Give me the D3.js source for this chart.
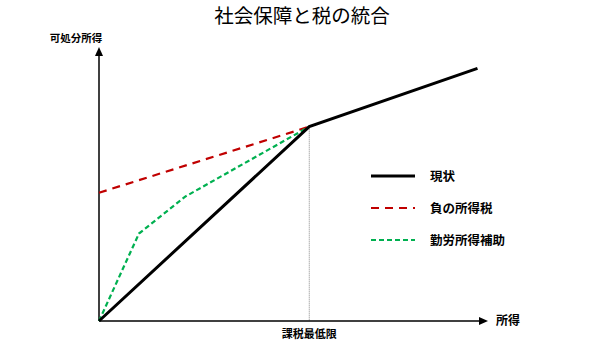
<!DOCTYPE html>
<html><head><meta charset="utf-8">
<script src="https://cdn.jsdelivr.net/npm/d3@7"></script>
<style>body{margin:0;background:#fff}svg{display:block;font-family:"Noto Sans CJK JP",sans-serif}</style>
</head><body><svg id="c" width="600" height="346"></svg>
<script>
const title = "社会保障と税の統合";
const yLabel = "可処分所得";
const xLabel = "所得";
const thresholdLabel = "課税最低限";
const threshold = 100;
const seriesNames = ["現状", "負の所得税", "勤労所得補助"];
const currentX = [0, 100, 180];
const currentY = [0, 100, 130];
const nitX = [0, 100];
const nitY = [66, 100];
const eitcX = [0, 19, 41, 100];
const eitcY = [0, 45, 64, 100];
const colors = ["#000000", "#c00000", "#00b050"];

const svg = d3.select("#c");
const x = d3.scaleLinear().domain([0, 185]).range([99, 488]);
const y = d3.scaleLinear().domain([0, 141]).range([321, 47]);

svg.append("text").attr("x", 302).attr("y", 23).attr("text-anchor", "middle")
  .attr("font-size", 19.5).text(title);
svg.append("text").attr("x", 76).attr("y", 42).attr("text-anchor", "middle")
  .attr("font-size", 10.5).attr("font-weight", "bold").text(yLabel);
svg.append("text").attr("x", x(185) + 8).attr("y", y(0) + 4)
  .attr("font-size", 12).attr("font-weight", "bold").text(xLabel);
svg.append("text").attr("x", x(threshold)).attr("y", 338).attr("text-anchor", "middle")
  .attr("font-size", 11).attr("font-weight", "bold").text(thresholdLabel);

// threshold guide
svg.append("line").attr("x1", x(threshold)).attr("x2", x(threshold))
  .attr("y1", y(100)).attr("y2", y(0)).attr("stroke", "#666").attr("stroke-width", 0.8)
  .attr("stroke-dasharray", "1,1");

// axes
svg.append("line").attr("x1", x(0)).attr("x2", x(185) - 6).attr("y1", y(0)).attr("y2", y(0))
  .attr("stroke", "#000").attr("stroke-width", 1.5);
svg.append("line").attr("x1", x(0)).attr("x2", x(0)).attr("y1", y(0)).attr("y2", y(141) + 6)
  .attr("stroke", "#000").attr("stroke-width", 1.5);
svg.append("path").attr("d", `M${x(185)},${y(0)} l-9,-4 l0,8 z`).attr("fill", "#000");
svg.append("path").attr("d", `M${x(0)},${y(141)} l-4,9 l8,0 z`).attr("fill", "#000");

const line = d3.line().x(d => x(d[0])).y(d => y(d[1]));
const series = [
  {pts: currentX.map((v, i) => [v, currentY[i]]), dash: null, w: 3},
  {pts: nitX.map((v, i) => [v, nitY[i]]), dash: "8,6", w: 2.2},
  {pts: eitcX.map((v, i) => [v, eitcY[i]]), dash: "5,3", w: 2.2}
];
[1, 2, 0].forEach(i => {
  const s = series[i];
  svg.append("path").attr("d", line(s.pts)).attr("fill", "none")
    .attr("stroke", colors[i]).attr("stroke-width", s.w)
    .attr("stroke-dasharray", s.dash);
});

// legend
const ly = [176, 208, 240];
seriesNames.forEach((n, i) => {
  svg.append("line").attr("x1", 371).attr("x2", 415).attr("y1", ly[i]).attr("y2", ly[i])
    .attr("stroke", colors[i]).attr("stroke-width", series[i].w)
    .attr("stroke-dasharray", series[i].dash);
  svg.append("text").attr("x", 430).attr("y", ly[i] + 4.5).attr("font-size", 12.5)
    .attr("font-weight", "bold").text(n);
});
</script></body></html>
